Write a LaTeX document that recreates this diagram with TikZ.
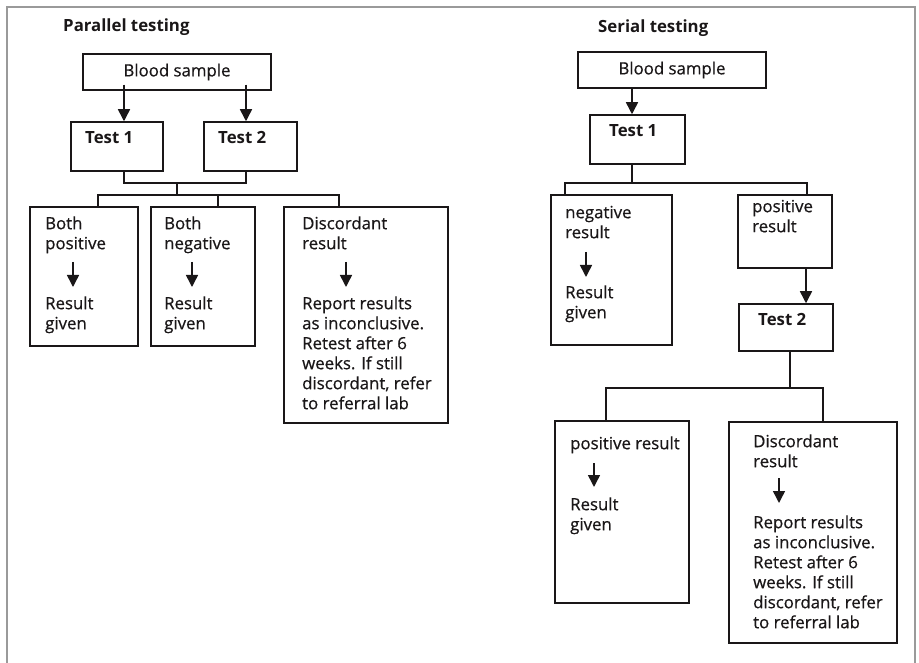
\documentclass[tikz,border=0pt]{standalone}
\usepackage{fontspec}
\setmainfont{Open Sans}[UprightFeatures={FakeBold=0.6}]
\usetikzlibrary{arrows.meta}
\definecolor{ink}{HTML}{1A1718}
\definecolor{frame}{HTML}{9A9A9A}
\newcommand{\fl}{\rule{0pt}{13pt}}
\tikzset{
  box/.style={draw=ink, line width=1.5pt, inner sep=0pt, rectangle},
  txt/.style={text=ink, inner sep=0pt, font=\fontsize{16.8}{20}\selectfont},
  ml/.style={txt, anchor=north west, align=left},
  bl/.style={txt, anchor=base west, font=\fontsize{16.8}{20}\selectfont\bfseries},
  conn/.style={draw=ink, line width=1.5pt},
  arr/.style={conn, -{Triangle[width=12pt,length=12pt]}}
}
\begin{document}
\begin{tikzpicture}[x=1pt,y=-1pt]
\useasboundingbox (0,0) rectangle (919,663);
% frame
\draw[frame, line width=2pt] (7,663) -- (7,7) -- (915,7) -- (915,663);

% ===== Parallel testing =====
\node[bl] (ptitle) at (63,32) {Parallel testing};
\node[box, txt, minimum width=188pt, minimum height=36pt] (bs1) at (177,72) {Blood sample};
\node[box, minimum width=92pt, minimum height=49pt] (t1) at (117,146.5) {};
\node[box, minimum width=93pt, minimum height=49pt] (t2) at (250.5,146.5) {};
\node[bl] (t1l) at (85,144) {Test 1};
\node[bl] (t2l) at (218,144) {Test 2};
\node[box, minimum width=108pt, minimum height=139pt] (pa) at (84,276.5) {};
\node[box, minimum width=104pt, minimum height=139pt] (pb) at (203,276.5) {};
\node[box, minimum width=164pt, minimum height=216pt] (pc) at (366,315) {};

\coordinate (j1) at (124,183);
\coordinate (j2) at (246,183);
\coordinate (jm) at (177,183);
\coordinate (jh) at (177,195);
\coordinate (ha) at (98,195);
\coordinate (hb) at (218,195);
\coordinate (hc) at (339,195);

\draw[arr] ([yshift=6pt]bs1.south -| j1) -- (j1 |- t1.north);
\draw[arr] ([yshift=6pt]bs1.south -| j2) -- (j2 |- t2.north);
\draw[conn] (j1 |- t1.south) -- (j1) -- (j2) -- (j2 |- t2.south);
\draw[conn] (jm) -- (jh);
\draw[conn] (ha |- pa.north) -- (ha) -- (hc) -- (hc |- pc.north);
\draw[conn] (hb) -- (hb |- pb.north);

\node[ml] (pa1) at (45,216) {\fl Both\\positive};
\node[ml] (pa2) at (45,296) {\fl Result\\given};
\node[ml] (pb1) at (164,216) {\fl Both\\negative};
\node[ml] (pb2) at (164,296) {\fl Result\\given};
\node[ml] (pc1) at (302,216) {\fl Discordant\\result};
\node[ml] (pc2) at (302,296) {\fl Report results\\as inconclusive.\\Retest after 6\\weeks. If still\\discordant, refer\\to referral lab};
\coordinate (aas) at (73,262); \coordinate (aae) at (73,287);
\coordinate (abs) at (192,262); \coordinate (abe) at (192,287);
\coordinate (acs) at (346,262); \coordinate (ace) at (346,287);
\draw[arr] (aas) -- (aae);
\draw[arr] (abs) -- (abe);
\draw[arr] (acs) -- (ace);

% ===== Serial testing =====
\node[bl] (stitle) at (598,33) {Serial testing};
\node[box, txt, minimum width=188pt, minimum height=36pt] (bs2) at (672,70) {Blood sample};
\node[box, minimum width=95pt, minimum height=49pt] (rt1) at (637.5,139.5) {};
\node[bl] (rt1l) at (609,137) {Test 1};
\node[box, minimum width=121pt, minimum height=150pt] (neg) at (611.5,270) {};
\node[box, minimum width=94pt, minimum height=73pt] (pos) at (785,231.5) {};
\node[box, minimum width=94pt, minimum height=47pt] (rt2) at (786,327.5) {};
\node[bl] (rt2l) at (758,325) {Test 2};
\node[box, minimum width=134pt, minimum height=182pt] (pr) at (622,512) {};
\node[box, minimum width=168pt, minimum height=221pt] (dr) at (813,532.5) {};

\coordinate (k1) at (632,183);
\coordinate (kl) at (565,183);
\coordinate (kr) at (807,183);
\coordinate (kp) at (806,268);
\coordinate (m1) at (790,388);
\coordinate (ml) at (606,388);
\coordinate (mr) at (823,388);

\draw[arr] (bs2.south -| k1) -- (k1 |- rt1.north);
\draw[conn] (k1 |- rt1.south) -- (k1);
\draw[conn] (kl |- neg.north) -- (kl) -- (kr) -- (kr |- pos.north);
\draw[arr] (kp |- pos.south) -- (kp |- rt2.north);
\draw[conn] (m1 |- rt2.south) -- (m1);
\draw[conn] (ml |- pr.north) -- (ml) -- (mr) -- (mr |- dr.north);

\node[ml] (n1) at (565,205) {\fl negative\\result};
\node[ml] (n2) at (565,285) {\fl Result\\given};
\node[ml] (p1) at (752,199) {\fl positive\\result};
\node[ml] (pr1) at (570,436) {\fl positive result};
\node[ml] (pr2) at (570,497) {\fl Result\\given};
\node[ml] (d1) at (753,434) {\fl Discordant\\result};
\node[ml] (d2) at (753,515) {\fl Report results\\as inconclusive.\\Retest after 6\\weeks. If still\\discordant, refer\\to referral lab};
\coordinate (ans) at (586,252); \coordinate (ane) at (586,277);
\coordinate (aps) at (594,463); \coordinate (ape) at (594,487);
\coordinate (ads) at (779,478); \coordinate (ade) at (779,503);
\draw[arr] (ans) -- (ane);
\draw[arr] (aps) -- (ape);
\draw[arr] (ads) -- (ade);
\end{tikzpicture}
\end{document}
